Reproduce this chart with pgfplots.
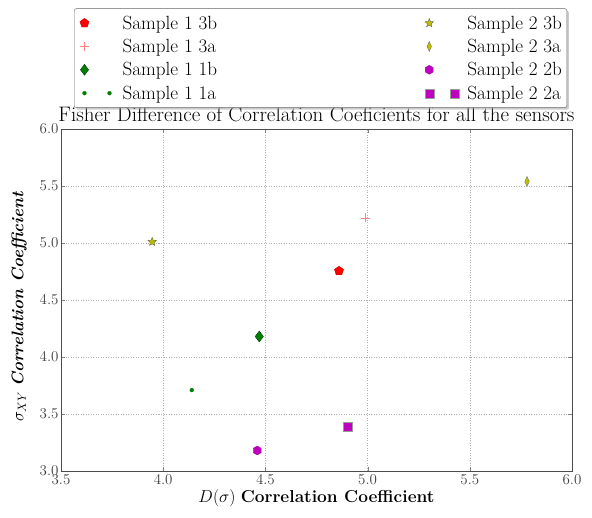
\documentclass[border=0pt]{standalone}
\usepackage{fix-cm}
\usepackage{pgfplots}
\pgfplotsset{compat=1.18}
\usetikzlibrary{shadows}
\pgfdeclareplotmark{hexagon*}{%
  \pgfpathmoveto{\pgfqpointpolar{90}{\pgfplotmarksize}}%
  \pgfpathlineto{\pgfqpointpolar{150}{\pgfplotmarksize}}%
  \pgfpathlineto{\pgfqpointpolar{210}{\pgfplotmarksize}}%
  \pgfpathlineto{\pgfqpointpolar{270}{\pgfplotmarksize}}%
  \pgfpathlineto{\pgfqpointpolar{330}{\pgfplotmarksize}}%
  \pgfpathlineto{\pgfqpointpolar{30}{\pgfplotmarksize}}%
  \pgfpathclose
  \pgfusepathqfillstroke}
\pgfdeclareplotmark{fstar*}{%
  \pgfpathmoveto{\pgfqpointpolar{90}{\pgfplotmarksize}}%
  \pgfpathlineto{\pgfqpointpolar{126}{0.45\pgfplotmarksize}}%
  \pgfpathlineto{\pgfqpointpolar{162}{\pgfplotmarksize}}%
  \pgfpathlineto{\pgfqpointpolar{198}{0.45\pgfplotmarksize}}%
  \pgfpathlineto{\pgfqpointpolar{234}{\pgfplotmarksize}}%
  \pgfpathlineto{\pgfqpointpolar{270}{0.45\pgfplotmarksize}}%
  \pgfpathlineto{\pgfqpointpolar{306}{\pgfplotmarksize}}%
  \pgfpathlineto{\pgfqpointpolar{342}{0.45\pgfplotmarksize}}%
  \pgfpathlineto{\pgfqpointpolar{18}{\pgfplotmarksize}}%
  \pgfpathlineto{\pgfqpointpolar{54}{0.45\pgfplotmarksize}}%
  \pgfpathclose
  \pgfusepathqfillstroke}
\definecolor{mplred}{RGB}{255,0,0}
\definecolor{mpllight}{RGB}{255,130,130}
\definecolor{mplgreen}{RGB}{0,128,0}
\definecolor{mplolive}{RGB}{191,191,0}
\definecolor{mplmag}{RGB}{191,0,191}
\pgfplotsset{
  legsingle/.style={legend image code/.code={\path (-7pt,0pt) (36pt,0pt); \draw[##1, only marks] plot coordinates {(0pt,0pt)};}},
  legdouble/.style={legend image code/.code={\path (-7pt,0pt) (36pt,0pt); \draw[##1, only marks] plot coordinates {(0pt,0pt) (25pt,0pt)};}},
}
\begin{document}
\begin{tikzpicture}
\useasboundingbox (-61pt,-46pt) rectangle (531pt,471pt);
\begin{axis}[
  at={(0pt,0pt)}, anchor=south west,
  scale only axis,
  width=511pt, height=342pt,
  xmin=3.5, xmax=6.0, ymin=3.0, ymax=6.0,
  xtick={3.5,4.0,...,6.0}, ytick={3.0,3.5,...,6.0},
  /pgf/number format/fixed,
  /pgf/number format/fixed zerofill,
  /pgf/number format/precision=1,
  tick label style={font=\fontsize{15}{18}\selectfont, text=black!75},
  yticklabel style={xshift=1pt},
  tick align=inside, tick pos=both,
  major tick length=4pt,
  axis line style={black!70, line width=0.8pt},
  grid=major,
  grid style={black!30, line width=0.5pt, dash pattern=on 1pt off 1.5pt},
  title={Fisher Difference of Correlation Coeficients for all the sensors},
  title style={font=\fontsize{21}{24}\selectfont, at={(0.5,1)}, anchor=south, inner sep=0pt, yshift=0.5pt},
  xlabel={$D(\sigma)$ \textbf{Correlation Coefficient}},
  ylabel={$\sigma_{XY}$ \textbf{\textit{Correlation Coefficient}}},
  xlabel style={font=\fontsize{17.3}{20}\selectfont, yshift=2pt},
  ylabel style={font=\fontsize{16.8}{20}\selectfont, at={(ticklabel cs:0.481)}, yshift=6pt},
  legend columns=2,
  legend cell align=left,
  legend style={at={(0.508,1.062)}, anchor=south, rounded corners=2pt,
    draw=black!60, fill=white, drop shadow={shadow xshift=2pt, shadow yshift=-2pt, fill=black!40},
    font=\fontsize{19.1}{22}\selectfont,
    inner xsep=3pt, inner ysep=5pt,
    /tikz/column 2/.style={column sep=203pt},
    row sep=4.5pt},
]
\addplot[only marks, mark=pentagon*, mark size=4.8pt, color=mplred, mark options={draw=red!75!black, line width=0.3pt}, legsingle]
  coordinates {(4.86,4.755)};
\addlegendentry{Sample 1 3b}
\addplot[only marks, mark=fstar*, mark size=4.5pt, color=mplolive, mark options={draw=black!70, line width=0.3pt}, legsingle]
  coordinates {(3.946,5.01)};
\addlegendentry{Sample 2 3b}
\addplot[only marks, mark=+, mark size=4.5pt, color=mpllight, mark options={line width=0.5pt}, legsingle]
  coordinates {(4.99,5.22)};
\addlegendentry{Sample 1 3a}
\addplot[only marks, mark=diamond*, mark size=5pt, color=mplolive, mark options={xscale=0.6, draw=black!60, line width=0.3pt}, legsingle]
  coordinates {(5.78,5.54)};
\addlegendentry{Sample 2 3a}
\addplot[only marks, mark=diamond*, mark size=5.5pt, color=mplgreen, mark options={draw=black!70!mplgreen, line width=0.3pt}, legsingle]
  coordinates {(4.47,4.18)};
\addlegendentry{Sample 1 1b}
\addplot[only marks, mark=hexagon*, mark size=4.5pt, color=mplmag, mark options={draw=mplmag!80!black, line width=0.3pt}, legsingle]
  coordinates {(4.46,3.18)};
\addlegendentry{Sample 2 2b}
\addplot[only marks, mark=*, mark size=2pt, color=mplgreen, mark options={line width=0.2pt}, legdouble]
  coordinates {(4.14,3.71)};
\addlegendentry{Sample 1 1a}
\addplot[only marks, mark=square*, mark size=4.5pt, color=mplmag, mark options={draw=black!40, line width=0.3pt}, legdouble]
  coordinates {(4.90,3.39)};
\addlegendentry{Sample 2 2a}
\end{axis}
\end{tikzpicture}
\end{document}
